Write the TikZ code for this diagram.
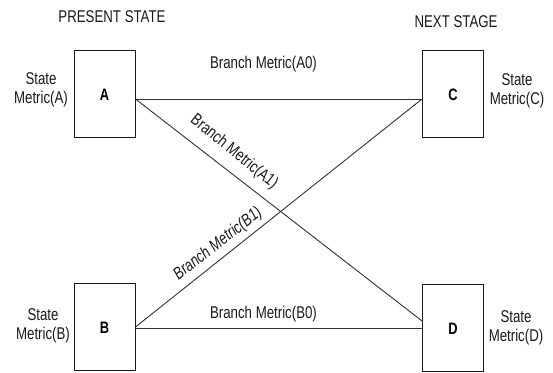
\documentclass[tikz,border=0pt]{standalone}
\usepackage{fontspec}
\setmainfont{Liberation Sans}[FakeStretch=0.78]
\begin{document}
\begin{tikzpicture}[x=1pt,y=-1pt,
  statebox/.style={draw=black!90,line width=0.9pt,minimum width=61pt,minimum height=87pt,inner sep=0pt},
  lettertxt/.style={inner sep=0pt,font=\fontsize{16.5}{19}\selectfont\bfseries},
  txt/.style={inner sep=0pt,font=\fontsize{17}{19}\selectfont,text=black!90},
  metric/.style={txt,align=center},
  wire/.style={draw=black!80,line width=0.9pt}]
\useasboundingbox (0,0) rectangle (553,372);
\node[statebox] (A) at (104.5,93.5) {};
\node[statebox] (C) at (453,93.5) {};
\node[statebox] (B) at (104.5,327) {};
\node[statebox] (D) at (453,327.5) {};
\node[lettertxt] (la) at (104.5,95) {A};
\node[lettertxt] (lc) at (453,95) {C};
\node[lettertxt] (lb) at (104.5,328) {B};
\node[lettertxt] (ld) at (453,329) {D};
\node[txt] (ps) at (112,16.5) {PRESENT STATE};
\node[txt] (ns) at (456,21.5) {NEXT STAGE};
\node[metric] (ma) at (41,90) {State\\Metric(A)};
\node[metric] (mb) at (43,325.5) {State\\Metric(B)};
\node[metric] (mc) at (517,91) {State\\Metric(C)};
\node[metric] (md) at (516,328) {State\\Metric(D)};
\draw[wire] ([yshift=-5.5pt]A.east) -- ([yshift=-5.5pt]C.west);
\draw[wire] ([yshift=-5.5pt]A.east) -- ([yshift=6.5pt]D.west);
\draw[wire] ([yshift=0pt]B.east) -- ([yshift=-5.5pt]C.west);
\draw[wire] ([yshift=-1pt]B.east) -- ([yshift=-0.5pt]D.west);
\node[txt] (a0) at (263.5,64) {Branch Metric(A0)};
\node[txt] (b0) at (263.5,314) {Branch Metric(B0)};
\node[txt,rotate=-39] (a1) at (234,152) {Branch Metric(A1)};
\node[txt,rotate=38,font=\fontsize{17}{19}\selectfont\itshape] (b1) at (218,244) {Branch Metric(B1)};
\end{tikzpicture}
\end{document}
